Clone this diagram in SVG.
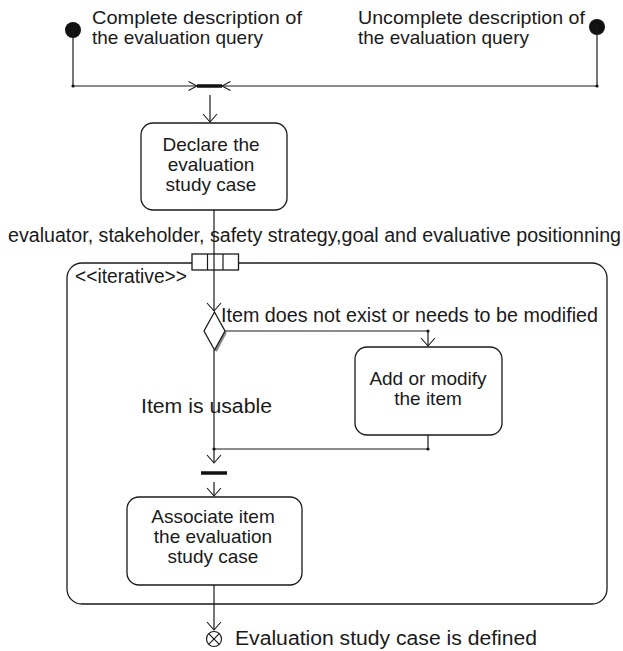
<svg xmlns="http://www.w3.org/2000/svg" width="623" height="651" viewBox="0 0 623 651">
  <style>
    .t { font-family: "Liberation Sans", Arial, sans-serif; font-size: 19.5px; fill: #1a1a1a; }
    .b { font-size: 19px; }
    .c { text-anchor: middle; }
    .box { fill: #fff; stroke: #1a1a1a; stroke-width: 1.3; }
    .ln { fill: none; stroke: #1a1a1a; stroke-width: 1.2; }
    .bar { stroke: #111; stroke-width: 3.5; }
  </style>
  <defs>
    <marker id="arr" markerUnits="userSpaceOnUse" viewBox="-10 -9 12 18" refX="0" refY="0" markerWidth="12" markerHeight="18" orient="auto">
      <path d="M-8,-7 L0,0 L-8,7" fill="none" stroke="#1a1a1a" stroke-width="1.1"/>
    </marker>
    <marker id="arrh" markerUnits="userSpaceOnUse" viewBox="-10 -6 12 12" refX="0" refY="0" markerWidth="12" markerHeight="12" orient="auto">
      <path d="M-8.5,-4.5 L0,0 L-8.5,4.5" fill="none" stroke="#1a1a1a" stroke-width="1.1"/>
    </marker>
  </defs>

  <rect width="623" height="651" fill="#fff"/>

  <!-- initial nodes -->
  <g id="start-complete">
    <circle cx="73" cy="30" r="8" fill="#111"/>
    <text class="t b" x="92" y="24" textLength="210" lengthAdjust="spacingAndGlyphs">Complete description of</text>
    <text class="t b" x="92" y="44" textLength="171" lengthAdjust="spacingAndGlyphs">the evaluation query</text>
  </g>
  <g id="start-uncomplete">
    <circle cx="597" cy="27" r="8" fill="#111"/>
    <text class="t b" x="358" y="24" textLength="227" lengthAdjust="spacingAndGlyphs">Uncomplete description of</text>
    <text class="t b" x="358" y="44" textLength="171" lengthAdjust="spacingAndGlyphs">the evaluation query</text>
  </g>

  <!-- join bar of the two starts -->
  <g id="join-top">
    <line class="bar" x1="197" y1="86" x2="222" y2="86"/>
  </g>

  <g id="declare">
    <rect class="box" x="141" y="123" width="146" height="87" rx="12"/>
    <text class="t b c" x="211" y="151">Declare the</text>
    <text class="t b c" x="211" y="171">evaluation</text>
    <text class="t b c" x="211" y="191">study case</text>
  </g>

  <text class="t" x="8" y="242" textLength="613" lengthAdjust="spacingAndGlyphs">evaluator, stakeholder, safety strategy,goal and evaluative positionning</text>

  <!-- expansion region -->
  <g id="iterative-region">
    <rect class="box" x="67" y="263" width="540" height="341" rx="15"/>
    <text class="t" x="75" y="283" textLength="112" lengthAdjust="spacingAndGlyphs">&lt;&lt;iterative&gt;&gt;</text>
  </g>

  <!-- input pin of the region -->
  <g id="pin">
    <rect class="box" x="192" y="254" width="46.5" height="16"/>
    <line class="ln" x1="207.5" y1="254" x2="207.5" y2="270"/>
    <line class="ln" x1="223" y1="254" x2="223" y2="270"/>
  </g>

  <g id="decision">
    <path d="M225.5,332 L215.5,351" stroke="#888" stroke-width="3" fill="none"/>
    <path class="box" d="M214.5,312 L225,331 L214.5,350 L204,331 Z"/>
  </g>

  <g id="add-modify">
    <rect class="box" x="355" y="347" width="147" height="88" rx="12"/>
    <text class="t b c" x="428" y="385">Add or modify</text>
    <text class="t b c" x="428" y="405">the item</text>
  </g>

  <g id="join-bottom">
    <line class="bar" x1="201" y1="473" x2="227" y2="473"/>
  </g>

  <g id="associate">
    <rect class="box" x="127" y="497" width="175" height="88" rx="12"/>
    <text class="t b c" x="213" y="523">Associate item</text>
    <text class="t b c" x="213" y="543">the evaluation</text>
    <text class="t b c" x="213" y="563">study case</text>
  </g>

  <g id="flow-final">
    <circle class="ln" cx="214" cy="639" r="7.5"/>
    <line class="ln" x1="208.7" y1="633.7" x2="219.3" y2="644.3"/>
    <line class="ln" x1="219.3" y1="633.7" x2="208.7" y2="644.3"/>
    <text class="t" x="235" y="645" textLength="302" lengthAdjust="spacingAndGlyphs">Evaluation study case is defined</text>
  </g>

  <!-- connectors -->
  <g id="connectors">
    <polyline class="ln" points="73,30 73,86 197,86" marker-end="url(#arrh)"/>
    <polyline class="ln" points="597,27 597,86 222,86" marker-end="url(#arrh)"/>
    <line class="ln" x1="210" y1="95" x2="210" y2="122" marker-end="url(#arr)"/>
    <line class="ln" x1="214" y1="210" x2="214" y2="311" marker-end="url(#arr)"/>
    <polyline class="ln" points="225,331 428,331 428,346" marker-end="url(#arr)"/>
    <polyline class="ln" points="428,435 428,449 214,449"/>
    <line class="ln" x1="214" y1="350" x2="214" y2="463" marker-end="url(#arr)"/>
    <line class="ln" x1="214" y1="482" x2="214" y2="496" marker-end="url(#arr)"/>
    <line class="ln" x1="214" y1="585" x2="214" y2="630" marker-end="url(#arr)"/>
    <circle cx="73" cy="86" r="1.6" fill="#111"/>
    <circle cx="597" cy="86" r="1.6" fill="#111"/>
    <circle cx="428" cy="331" r="1.6" fill="#111"/>
    <circle cx="428" cy="449" r="1.6" fill="#111"/>
    <circle cx="214" cy="449" r="1.6" fill="#111"/>
    <text class="t" x="221" y="322" textLength="377" lengthAdjust="spacingAndGlyphs">Item does not exist or needs to be modified</text>
    <text class="t" x="141" y="413" textLength="131" lengthAdjust="spacingAndGlyphs">Item is usable</text>
  </g>
</svg>
